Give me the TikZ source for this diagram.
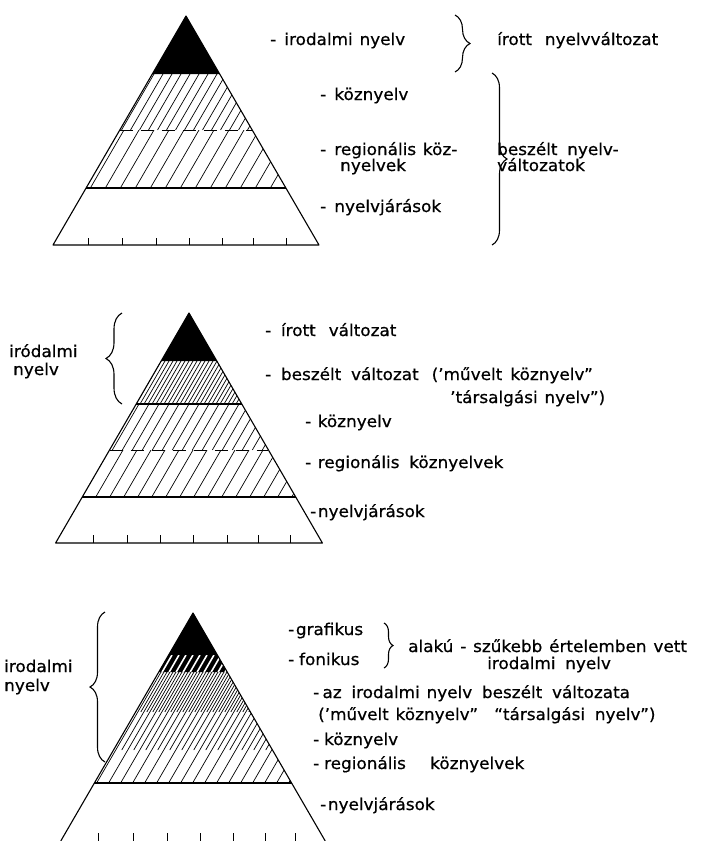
\documentclass[tikz,border=0pt]{standalone}
\usepackage{fontspec}
\setmainfont{DejaVu Sans}[FakeStretch=1.04,FakeBold=0.6]
\usetikzlibrary{decorations.pathreplacing}

\newcommand\lblfnt{\fontsize{16.2}{16.2}\selectfont\spaceskip=0.42em plus 0.1em\relax}

\tikzset{
  lbl/.style={font=\lblfnt, inner sep=0pt, anchor=base west},
  outline/.style={line width=1.1pt, line join=round},
  hatchline/.style={line width=0.7pt},
  whiteslash/.style={line width=1.6pt, white},
  bandline/.style={line width=1.1pt},
  dashline/.style={line width=1pt, dash pattern=on 13pt off 8pt},
  brc/.style={decorate, decoration={brace, amplitude=#1}, line width=1.1pt},
  tickmark/.style={line width=1pt},
}

% #1 style, #2 apex x, #3 apex y, #4 top y, #5 bottom y, #6 spacing, #7 phase
\newcommand\hband[7][hatchline]{%
  \begin{scope}
    \clip ({#2-0.58*(#4-#3)},#4) -- ({#2+0.58*(#4-#3)},#4) -- ({#2+0.58*(#5-#3)},#5) -- ({#2-0.58*(#5-#3)},#5) -- cycle;
    \foreach \i in {0,...,90}{\draw[#1] ({#2-140+#7+\i*#6},#4) -- ({#2-140+#7+\i*#6-0.58*(#5-#4)},#5);}
  \end{scope}}
% horizontal line across pyramid: #1 style, #2 apex x, #3 apex y, #4 y
\newcommand\hcut[4][bandline]{%
  \draw[#1] ({#2-0.58*(#4-#3)},#4) -- ({#2+0.58*(#4-#3)},#4);}

\begin{document}
\begin{tikzpicture}[x=1pt,y=-1pt]
\useasboundingbox (0,0) rectangle (704,841);
\fill[white] (0,0) rectangle (704,841);

% ---------------- top pyramid ----------------
\coordinate (A1) at (186,16);
\coordinate (L1) at (53,245);
\coordinate (R1) at (319,245);
\fill[black] (A1) -- ({186-0.58*58},74) -- ({186+0.58*58},74) -- cycle;
\hband{186}{16}{74}{130}{9}{0}
\hband{186}{16}{130}{188}{15}{3}
\hcut[dashline]{186}{16}{130}
\hcut{186}{16}{188}
\draw[outline] (A1) -- (L1) -- (R1) -- cycle;
\foreach \x in {88,122,156,189,222,253,286} \draw[tickmark] (\x,245) -- (\x,238);

\node[lbl] (t1) at (270,45) {-\hspace{.5em}irodalmi nyelv};
\node[lbl] (t2) at (497,45) {írott\hspace{.8em}nyelvváltozat};
\node[lbl] (t3) at (320,100) {-\hspace{.5em}köznyelv};
\node[lbl] (t4) at (320,155) {-\hspace{.5em}regionális köz-};
\node[lbl] (t5) at (340,171) {nyelvek};
\node[lbl] (t6) at (320,212) {-\hspace{.5em}nyelvjárások};
\node[lbl] (t7) at (497,155) {beszélt\hspace{.6em}nyelv-};
\node[lbl] (t8) at (497,171) {változatok};
\draw[brc=15] (455,15) -- (455,72);
\draw[brc=15] (492,73) -- (492,245);

% ---------------- middle pyramid ----------------
\coordinate (A2) at (189,313);
\coordinate (L2) at ({189-0.58*230},543);
\coordinate (R2) at ({189+0.58*230},543);
\fill[black] (A2) -- ({189-0.58*48},361) -- ({189+0.58*48},361) -- cycle;
\hband{189}{313}{361}{404}{4}{0}
\hband{189}{313}{404}{450}{10}{0}
\hband{189}{313}{450}{497}{14}{4}
\hcut{189}{313}{404}
\hcut[dashline]{189}{313}{450}
\hcut{189}{313}{497}
\draw[outline] (A2) -- (L2) -- (R2) -- cycle;
\foreach \x in {93,127,160,193,227,258,290} \draw[tickmark] (\x,543) -- (\x,535);

\node[lbl] (m1) at (9,357) {iródalmi};
\node[lbl] (m2) at (13,375) {nyelv};
\node[lbl] (m3) at (265,336) {-\hspace{.6em}írott\hspace{.8em}változat};
\node[lbl] (m4) at (265,380) {-\hspace{.6em}beszélt\hspace{.6em}változat\hspace{.8em}(’művelt\hspace{.5em}köznyelv”};
\node[lbl] (m5) at (450,403) {’társalgási nyelv”)};
\node[lbl] (m6) at (305,427) {-\hspace{.4em}köznyelv};
\node[lbl] (m7) at (305,468) {-\hspace{.4em}regionális\hspace{.6em}köznyelvek};
\node[lbl] (m8) at (310,517) {-\hspace{.1em}nyelvjárások};
\draw[brc=16] (122,404) -- (122,313);

% ---------------- bottom pyramid ----------------
\coordinate (A3) at (193,613);
\coordinate (L3) at ({193-0.58*228},841);
\coordinate (R3) at ({193+0.58*228},841);
\fill[black] (A3) -- ({193-0.58*59},672) -- ({193+0.58*59},672) -- cycle;
\hband[whiteslash]{193}{613}{655}{672}{7}{0}
\hband{193}{613}{672}{783}{12}{0}
\hband{193}{613}{672}{750}{12}{6}
\hband{193}{613}{672}{712}{12}{3}
\hband{193}{613}{672}{712}{12}{9}
\hcut{193}{613}{783}
\draw[outline] (L3) -- (A3) -- (R3);
\foreach \x in {98,133,167,200,233,265,295} \draw[tickmark] (\x,842) -- (\x,833);

\node[lbl] (b1) at (4,672) {irodalmi};
\node[lbl] (b2) at (4,691) {nyelv};
\node[lbl] (b3) at (288,635) {-\hspace{.1em}grafikus};
\node[lbl] (b4) at (288,665) {-\hspace{.3em}fonikus};
\node[lbl] (b5) at (408,652) {alakú - szűkebb értelemben vett};
\node[lbl] (b6) at (487,669) {irodalmi\hspace{.6em}nyelv};
\node[lbl] (b7) at (313,698) {-\hspace{.2em}az\hspace{.6em}irodalmi nyelv\hspace{.6em}beszélt\hspace{.6em}változata};
\node[lbl] (b8) at (318,720) {(’művelt köznyelv”\hspace{1em}“társalgási\hspace{.6em}nyelv”)};
\node[lbl] (b9) at (313,745) {-\hspace{.3em}köznyelv};
\node[lbl] (b10) at (313,769) {-\hspace{.3em}regionális\hspace{1.5em}köznyelvek};
\node[lbl] (b11) at (320,810) {-\hspace{.1em}nyelvjárások};
\draw[brc=9] (384,623) -- (384,668);
\draw[brc=15] (105,762) -- (105,612);
\end{tikzpicture}
\end{document}
